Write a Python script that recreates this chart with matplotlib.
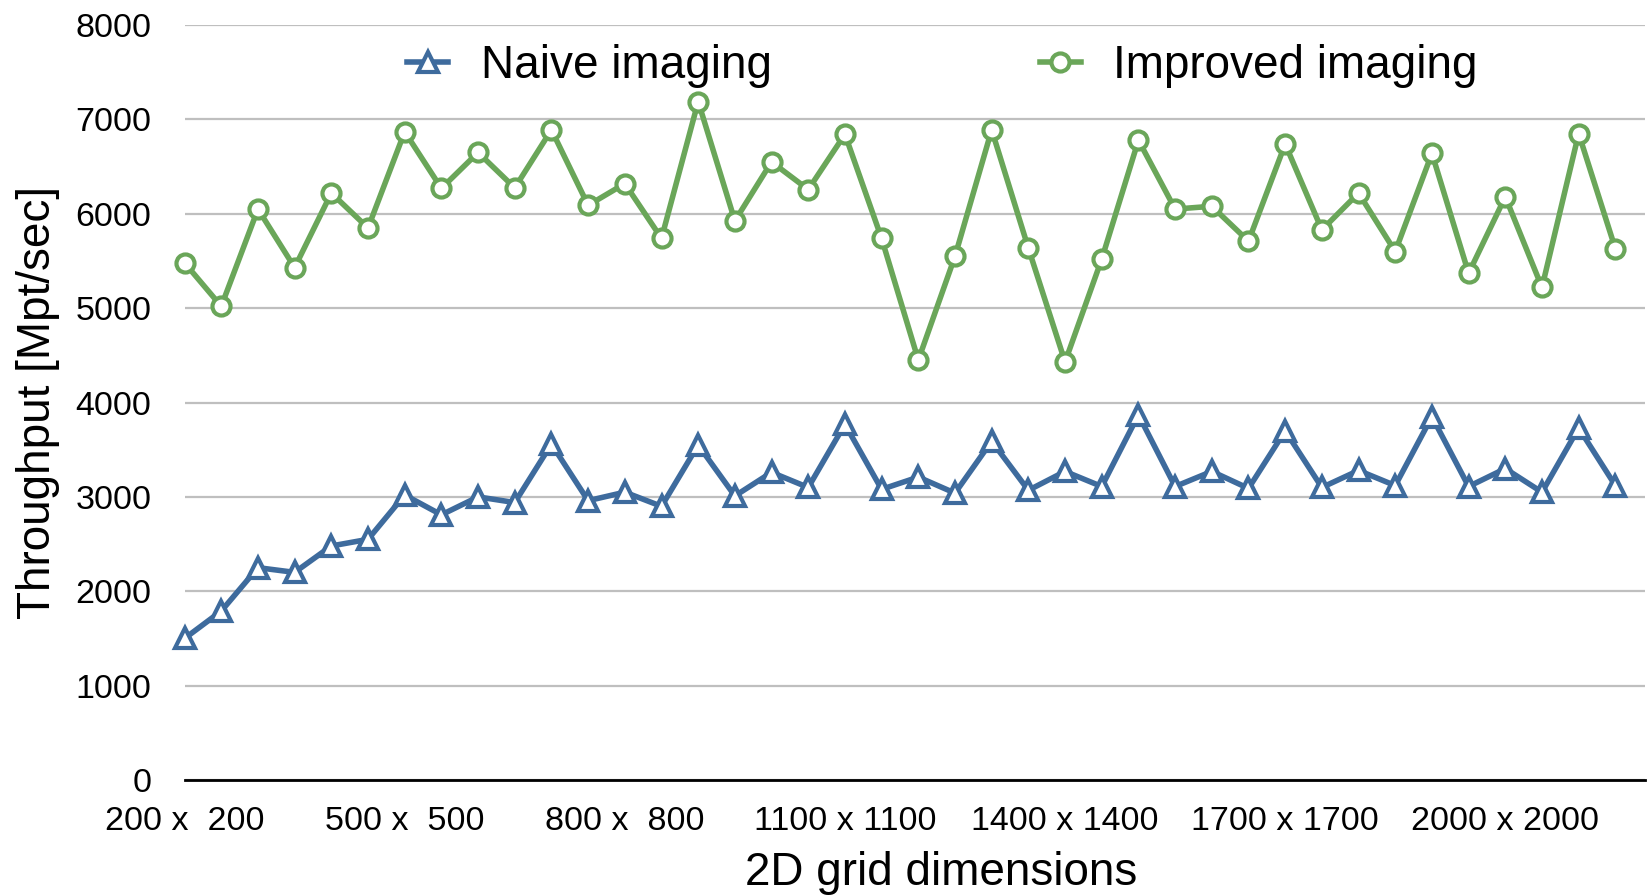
import matplotlib
matplotlib.use('Agg')
import matplotlib.pyplot as plt
import numpy as np

plt.rcParams['font.family'] = ['Liberation Sans', 'DejaVu Sans']

# === data ===
grid_sizes = list(range(200, 2200, 50))  # 200 .. 2150
naive = [1500, 1790, 2250, 2200, 2480, 2550, 3020, 2810, 3000, 2940,
         3560, 2960, 3050, 2900, 3550, 3010, 3260, 3100, 3770, 3080,
         3210, 3040, 3590, 3070, 3270, 3110, 3870, 3110, 3270, 3090,
         3700, 3100, 3280, 3120, 3850, 3110, 3300, 3050, 3730, 3120]
improved = [5480, 5020, 6050, 5430, 6220, 5850, 6870, 6270, 6650, 6275,
            6890, 6090, 6320, 5740, 7190, 5925, 6550, 6257, 6843, 5739,
            4450, 5550, 6890, 5636, 4430, 5520, 6780, 6050, 6080, 5710,
            6740, 5830, 6220, 5600, 6640, 5370, 6180, 5220, 6850, 5630]
label_every = 6
y_ticks = [0, 1000, 2000, 3000, 4000, 5000, 6000, 7000, 8000]

blue = '#3e6b9d'
green = '#6aa659'

x = np.arange(len(grid_sizes))
tick_pos = x[::label_every]
tick_lbl = [f"{g} x  {g}" if g < 1000 else f"{g} x {g}" for g in grid_sizes[::label_every]]

fig = plt.figure(figsize=(16.48, 8.96), dpi=100)
ax = fig.add_axes([0.112, 0.1295, 0.886, 0.8425])

ax.plot(x, naive, color=blue, lw=4.0, marker='^', ms=14, mfc='white',
        mec=blue, mew=3.0, label='Naive imaging', clip_on=False, zorder=3)
ax.plot(x, improved, color=green, lw=4.0, marker='o', ms=13, mfc='white',
        mec=green, mew=3.0, label='Improved imaging', clip_on=False, zorder=3)

ax.set_xlim(0, 39.8)
ax.set_ylim(0, 8000)
ax.set_yticks(y_ticks)
ax.set_xticks(tick_pos)
ax.set_xticklabels(tick_lbl)
ax.tick_params(axis='both', length=0, labelsize=24.5)
ax.tick_params(axis='y', pad=24)
ax.tick_params(axis='x', pad=19)

ax.grid(axis='y', color='#bfbfbf', lw=1.6)
ax.set_axisbelow(True)
for s in ['top', 'right', 'left']:
    ax.spines[s].set_visible(False)
ax.spines['bottom'].set_color('black')
ax.spines['bottom'].set_linewidth(2)
ax.spines['bottom'].set_zorder(2)

ax.set_ylabel('Throughput [Mpt/sec]', fontsize=33, labelpad=11)
ax.set_xlabel('2D grid dimensions', fontsize=33, labelpad=10, x=0.518)

ax.legend(loc='center', bbox_to_anchor=(0.519, 0.946), ncol=2, frameon=False,
          fontsize=33, handlelength=0.9, columnspacing=5.85, handletextpad=0.7)

plt.savefig('out.png', dpi=100)
plt.close()
